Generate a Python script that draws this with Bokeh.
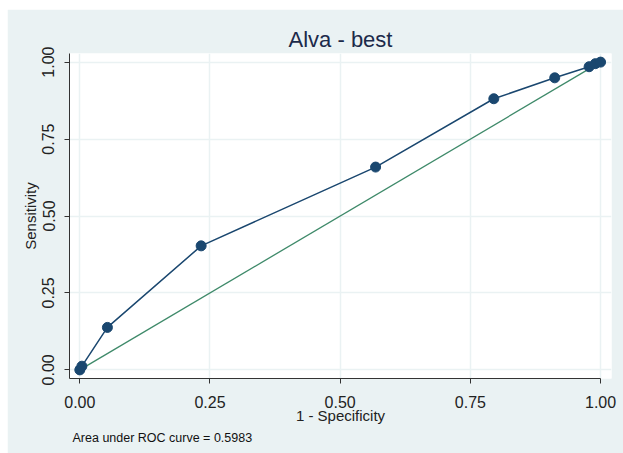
from bokeh.plotting import figure
from bokeh.models import Range1d, Title, FixedTicker
from bokeh.embed import file_html
from bokeh.resources import INLINE

# ROC points
fpr = [0.0, 0.004, 0.053, 0.233, 0.568, 0.795, 0.912, 0.978, 0.99, 1.0]
tpr = [0.0, 0.012, 0.138, 0.403, 0.659, 0.881, 0.949, 0.985, 0.995, 1.0]
ref_x = [0.0, 1.0]
ref_y = [0.0, 1.0]
ticks = [0.0, 0.25, 0.5, 0.75, 1.0]
tick_labels = {0.0: "0.00", 0.25: "0.25", 0.5: "0.50", 0.75: "0.75", 1.0: "1.00"}
title_text = "Alva - best"
note_text = "Area under ROC curve = 0.5983"

FONT = "Liberation Sans"
NAVY = "#1a476f"
GREEN = "#3f8a6a"
BG = "#eaf2f3"

p = figure(width=616, height=444, output_backend="svg", toolbar_location=None,
           x_range=Range1d(-0.0198, 1.021), y_range=Range1d(-0.028, 1.028),
           min_border_left=62, min_border_right=12, min_border_top=44, min_border_bottom=75)
p.margin = (9, 0, 0, 7)

p.border_fill_color = BG
p.background_fill_color = "white"
p.outline_line_color = None

p.title.text = title_text
p.title.align = "center"
p.title.text_font = FONT
p.title.text_font_size = "22px"
p.title.text_font_style = "normal"
p.title.text_color = "#1c2a4a"
p.title.standoff = 4

for ax in (p.xaxis[0], p.yaxis[0]):
    ax.ticker = FixedTicker(ticks=ticks)
    ax.major_label_overrides = tick_labels
    ax.minor_tick_line_color = None
    ax.major_tick_out = 5
    ax.major_tick_in = 0
    ax.axis_line_color = "#333333"
    ax.major_tick_line_color = "#333333"
    ax.major_label_text_font = FONT
    ax.major_label_text_font_size = "16px"
    ax.major_label_text_color = "#222222"
    ax.axis_label_text_font = FONT
    ax.axis_label_text_font_size = "15px"
    ax.axis_label_text_font_style = "normal"
    ax.axis_label_text_color = "#222222"

p.xaxis.axis_label = "1 - Specificity"
p.yaxis.axis_label = "Sensitivity"
p.xaxis.bounds = (-0.0198, 1.0)
p.yaxis.major_label_orientation = "vertical"
p.xaxis.major_label_standoff = 12
p.yaxis.major_label_standoff = 10
p.xaxis.axis_label_standoff = -4
p.yaxis.axis_label_standoff = 1

p.xgrid.ticker = FixedTicker(ticks=ticks)
p.ygrid.ticker = FixedTicker(ticks=ticks)
p.grid.grid_line_color = BG
p.grid.grid_line_width = 1.5

note = Title(text=note_text, align="left", text_font=FONT, text_font_size="12.5px",
             text_font_style="normal", text_color="#111111", offset=3, standoff=4)
p.add_layout(note, "below")

p.line(ref_x, ref_y, line_color=GREEN, line_width=1.3)
p.line(fpr, tpr, line_color=NAVY, line_width=1.5)
p.scatter(fpr, tpr, size=10, fill_color=NAVY, line_color=NAVY)

open("out.html", "w").write(file_html(p, INLINE))
